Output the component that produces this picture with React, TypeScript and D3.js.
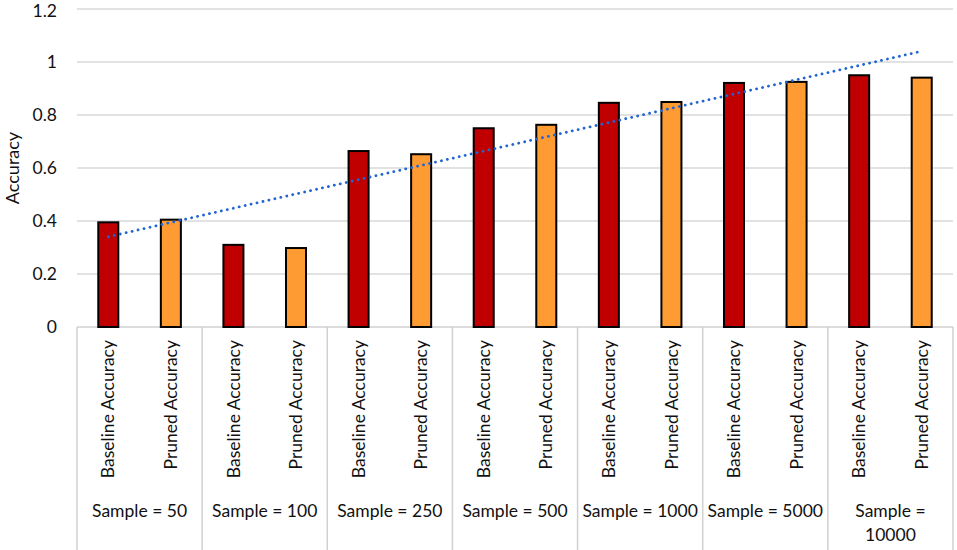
import React from "react";
import * as d3 from "d3";

const groups: string[] = [
  "Sample = 50",
  "Sample = 100",
  "Sample = 250",
  "Sample = 500",
  "Sample = 1000",
  "Sample = 5000",
  "Sample = 10000",
];
const seriesNames: string[] = ["Baseline Accuracy", "Pruned Accuracy"];
const baseline: number[] = [0.395, 0.31, 0.664, 0.75, 0.846, 0.921, 0.95];
const pruned: number[] = [0.405, 0.298, 0.652, 0.763, 0.849, 0.925, 0.941];
const yTicks: number[] = [0, 0.2, 0.4, 0.6, 0.8, 1, 1.2];
const yLabel = "Accuracy";

const W = 957;
const H = 550;
const FONT = "Lato, 'Open Sans', sans-serif";

export default function App() {
  const left = 77;
  const right = 953;
  const top = 62 - 265 * 0.2;
  const bottom = 327;

  const bars = groups.flatMap((g, gi) => [
    { key: `${gi}-b`, group: g, series: seriesNames[0], value: baseline[gi], color: "#C00000" },
    { key: `${gi}-p`, group: g, series: seriesNames[1], value: pruned[gi], color: "#FF9B33" },
  ]);

  const x = d3
    .scaleBand<string>()
    .domain(bars.map((b) => b.key))
    .range([left, right])
    .paddingInner(0.68)
    .paddingOuter(0.34);
  const xGroup = d3.scaleBand<string>().domain(groups).range([left, right]);
  const y = d3.scaleLinear().domain([0, 1.2]).range([bottom, top]);

  // linear trendline (least squares over bar sequence)
  const vals = bars.map((b) => b.value);
  const n = vals.length;
  const xs = d3.range(1, n + 1);
  const mx = d3.mean(xs)!;
  const my = d3.mean(vals)!;
  const sxy = d3.sum(xs, (xi, i) => (xi - mx) * (vals[i] - my));
  const sxx = d3.sum(xs, (xi) => (xi - mx) ** 2);
  const slope = sxy / sxx;
  const icpt = my - slope * mx;
  const trendPts: [number, number][] = [
    [x(bars[0].key)! + x.bandwidth() / 2, y(icpt + slope * 1)],
    [x(bars[n - 1].key)! + x.bandwidth() / 2, y(icpt + slope * n)],
  ];
  const line = d3.line();

  const fs = 17.5;
  const ink = "#111";

  return (
    <div style={{ position: "fixed", left: 0, top: 0 }}>
      <svg width={W} height={H} style={{ display: "block", background: "#fff" }} fontFamily={FONT}>
        {/* gridlines */}
        {yTicks.map((t) => (
          <line
            key={`g${t}`}
            x1={left}
            x2={right}
            y1={y(t)}
            y2={y(t)}
            stroke={t === 0 ? "#d0d0d0" : "#d9d9d9"}
            strokeWidth={1.6}
          />
        ))}
        {/* y tick labels */}
        {yTicks.map((t) => (
          <text key={`t${t}`} x={57} y={Math.max(y(t), 11)} dy="0.35em" textAnchor="end" fontSize={fs} fill={ink}>
            {d3.format("~g")(t)}
          </text>
        ))}
        <text
          transform={`translate(19,${(y(1.2) + y(0)) / 2}) rotate(-90)`}
          textAnchor="middle"
          fontSize={fs + 0.5}
          fill={ink}
        >
          {yLabel}
        </text>
        {/* category separators */}
        {groups.map((g) => (
          <line
            key={`s${g}`}
            x1={xGroup(g)!}
            x2={xGroup(g)!}
            y1={bottom}
            y2={H}
            stroke="#d0d0d0"
            strokeWidth={1.5}
          />
        ))}
        <line x1={right} x2={right} y1={bottom} y2={H} stroke="#d0d0d0" strokeWidth={1.5} />
        {/* bars */}
        {bars.map((b) => (
          <rect
            key={b.key}
            x={x(b.key)!}
            y={y(b.value)}
            width={x.bandwidth()}
            height={y(0) - y(b.value)}
            fill={b.color}
            stroke="#000"
            strokeWidth={2}
          />
        ))}
        {/* trendline */}
        <path
          d={line(trendPts)!}
          fill="none"
          stroke="#2065D0"
          strokeWidth={2.8}
          strokeLinecap="round"
          strokeDasharray="0.1 6"
        />
        {/* rotated series labels */}
        {bars.map((b) => (
          <text
            key={`l${b.key}`}
            transform={`translate(${x(b.key)! + x.bandwidth() / 2},${bottom + 13}) rotate(-90)`}
            textAnchor="end"
            dy="0.35em"
            fontSize={fs}
            fill={ink}
          >
            {b.series}
          </text>
        ))}
        {/* group labels */}
        {groups.map((g) => {
          const cx = xGroup(g)! + xGroup.bandwidth() / 2;
          const fits = g.length <= 13;
          if (fits) {
            return (
              <text key={`gl${g}`} x={cx} y={517} textAnchor="middle" fontSize={fs} fill={ink}>
                {g}
              </text>
            );
          }
          const parts = g.split("= ");
          return (
            <text key={`gl${g}`} x={cx} y={517} textAnchor="middle" fontSize={fs} fill={ink}>
              <tspan x={cx}>{parts[0] + "="}</tspan>
              <tspan x={cx} dy={24}>
                {parts[1]}
              </tspan>
            </text>
          );
        })}
      </svg>
    </div>
  );
}
